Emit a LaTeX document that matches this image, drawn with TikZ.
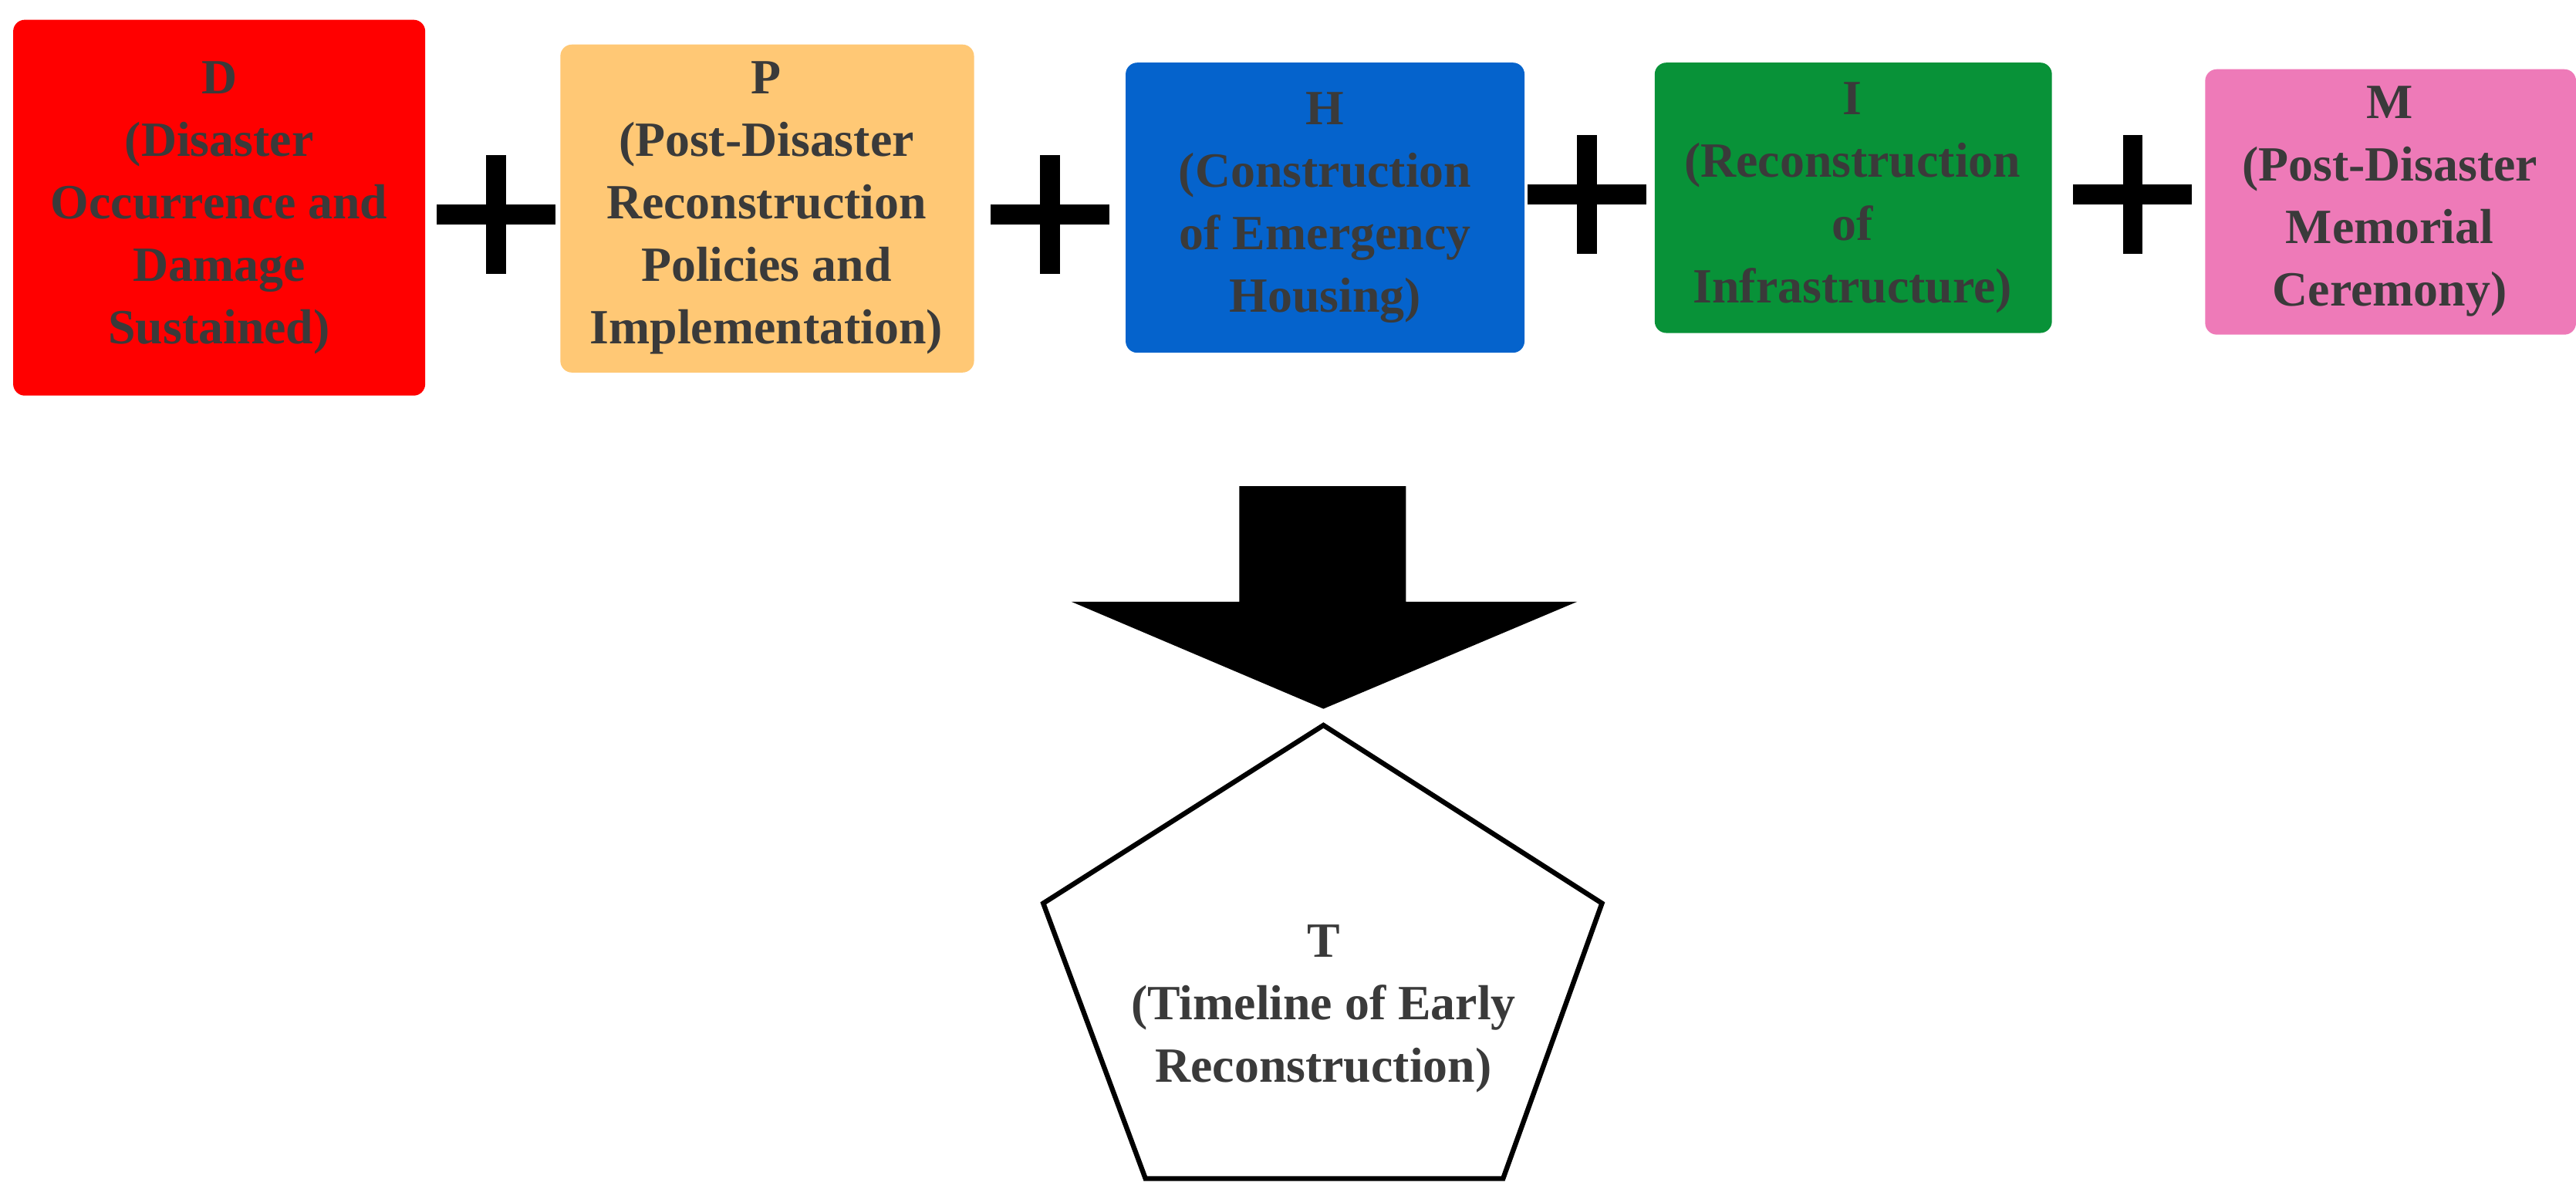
\documentclass[tikz,border=0pt]{standalone}
\usepackage{fontspec}
\setmainfont{Liberation Serif}
\usetikzlibrary{shapes.geometric}
\definecolor{txt}{HTML}{3A3A3A}
\definecolor{cD}{HTML}{FF0000}
\definecolor{cP}{HTML}{FFC875}
\definecolor{cH}{HTML}{0563CC}
\definecolor{cI}{HTML}{089238}
\definecolor{cM}{HTML}{EE7AB8}
\begin{document}
\begin{tikzpicture}[x=0.02cm,y=-0.02cm,
  box/.style={rounded corners=4pt,draw=none},
  lbl/.style={text=txt,font=\fontsize{17}{21.6}\selectfont\bfseries,align=center},
  plus/.style={line width=12*0.02cm}]
\useasboundingbox (0,0) rectangle (1563,721);
\fill[box,cD] (8,12) rectangle (258,240);
\fill[box,cP] (340,27) rectangle (591,226);
\fill[box,cH] (683,38) rectangle (925,214);
\fill[box,cI] (1004,38) rectangle (1245,202);
\fill[box,cM] (1338,42) rectangle (1563,203);
\node[lbl] (D) at (133,126) {D\\(Disaster\\Occurrence and\\Damage\\Sustained)};
\node[lbl] (P) at (465,126) {P\\(Post-Disaster\\Reconstruction\\Policies and\\Implementation)};
\node[lbl] (H) at (804,126) {H\\(Construction\\of Emergency\\Housing)};
\node[lbl] (I) at (1124,120) {I\\(Reconstruction\\of\\Infrastructure)};
\node[lbl] (M) at (1450,122) {M\\(Post-Disaster\\Memorial\\Ceremony)};
\foreach \x/\y in {301/130,637/130,963/118,1294/118}{
  \draw[plus] (\x-36,\y) -- (\x+36,\y);
  \draw[plus] (\x,\y-36) -- (\x,\y+36);}
\fill (752,295) -- (853,295) -- (853,365) -- (957,365) -- (803,430) -- (650,365) -- (752,365) -- cycle;
\draw[line width=3*0.02cm,fill=white] (803,440) -- (972,548) -- (912,715) -- (695,715) -- (633,548) -- cycle;
\node[lbl] (T) at (803,612) {T\\(Timeline of Early\\Reconstruction)};
\end{tikzpicture}
\end{document}
